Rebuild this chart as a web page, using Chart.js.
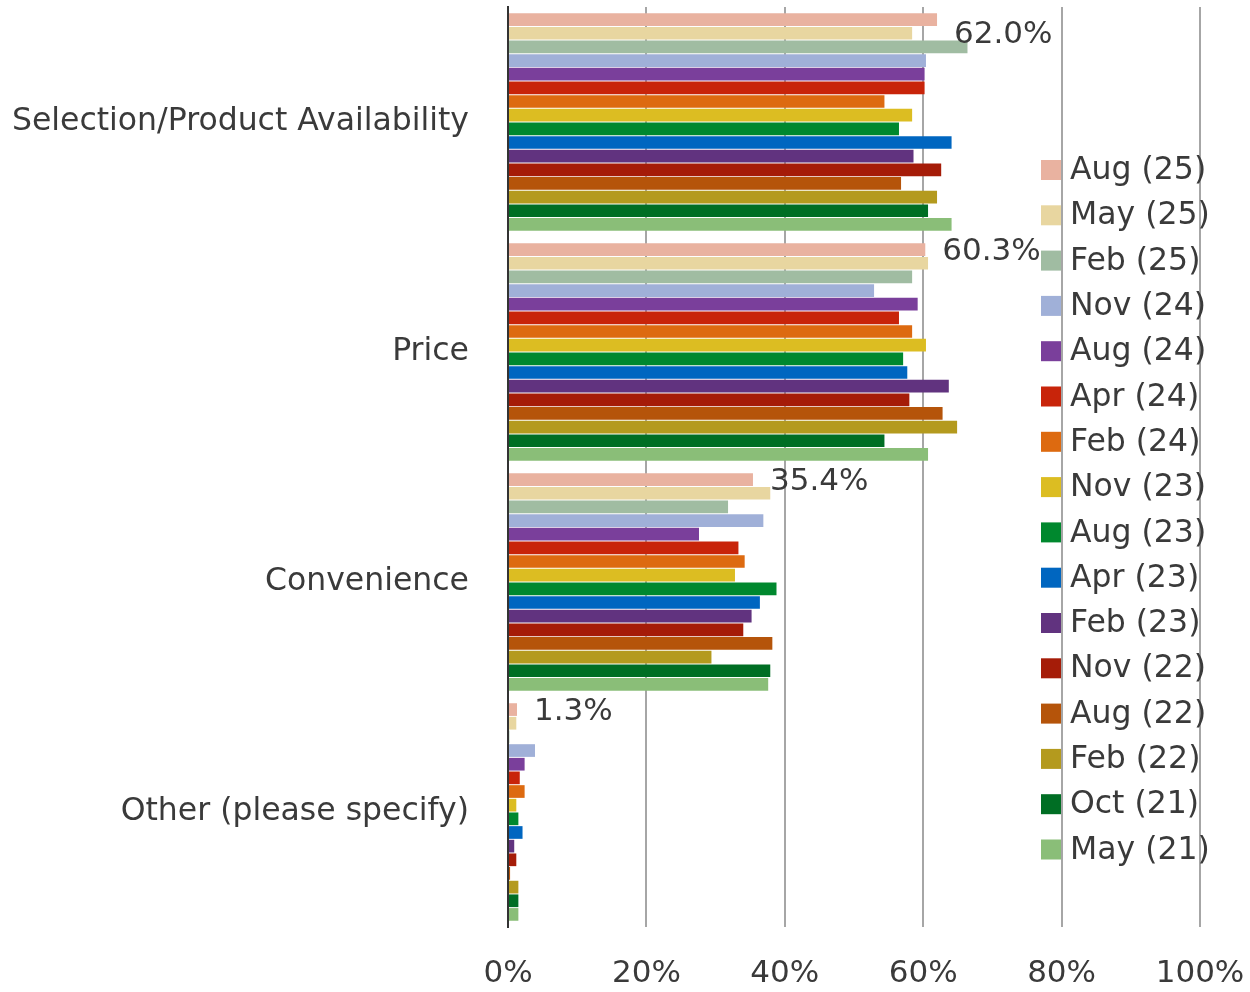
<!DOCTYPE html>
<html>
<head>
<meta charset="utf-8">
<script src="https://cdn.jsdelivr.net/npm/chart.js@4"></script>
<style>
    body { margin: 0; background: #fff; }
    #wrap { width: 1250px; height: 992px; }
</style>
</head>
<body>
<div id="wrap"><canvas id="chart" width="1250" height="992"></canvas></div>
<script>
const categories = ["Selection/Product Availability", "Price", "Convenience", "Other (please specify)"];
const seriesNames = ["Aug (25)", "May (25)", "Feb (25)", "Nov (24)", "Aug (24)", "Apr (24)", "Feb (24)", "Nov (23)",
    "Aug (23)", "Apr (23)", "Feb (23)", "Nov (22)", "Aug (22)", "Feb (22)", "Oct (21)", "May (21)"];
const seriesColors = ["#e9b2a0", "#e8d6a0", "#a0bca2", "#a0b0d8", "#7a3f9b", "#c8240a", "#dd6a10", "#dcbd22",
    "#00882e", "#0066c0", "#61337f", "#a51c08", "#b5540a", "#b49a1e", "#006e24", "#8abe78"];

// one row per series: [Selection, Price, Convenience, Other]
const aug25 = [62.0, 60.3, 35.4, 1.3];
const may25 = [58.4, 60.7, 37.9, 1.2];
const feb25 = [66.4, 58.4, 31.8, 0.2];
const nov24 = [60.4, 52.9, 36.9, 3.9];
const aug24 = [60.2, 59.2, 27.6, 2.4];
const apr24 = [60.2, 56.5, 33.3, 1.7];
const feb24 = [54.4, 58.4, 34.2, 2.4];
const nov23 = [58.4, 60.4, 32.8, 1.2];
const aug23 = [56.5, 57.1, 38.8, 1.5];
const apr23 = [64.1, 57.7, 36.4, 2.1];
const feb23 = [58.6, 63.7, 35.2, 0.9];
const nov22 = [62.6, 58.0, 34.0, 1.2];
const aug22 = [56.8, 62.8, 38.2, 0.3];
const feb22 = [62.0, 64.9, 29.4, 1.5];
const oct21 = [60.7, 54.4, 37.9, 1.5];
const may21 = [64.1, 60.7, 37.6, 1.5];
const seriesValues = [aug25, may25, feb25, nov24, aug24, apr24, feb24, nov23,
    aug23, apr23, feb23, nov22, aug22, feb22, oct21, may21];

const xTicks = [0, 20, 40, 60, 80, 100];

const FONT = "'DejaVu Sans', Verdana, sans-serif";
const TEXT = "#3a3a3a";

// value labels on the first series only
const valueLabels = {
    id: "valueLabels",
    afterDatasetsDraw(chart) {
        const c = chart.ctx;
        const meta = chart.getDatasetMeta(0);
        c.save();
        c.font = "31px " + FONT;
        c.fillStyle = TEXT;
        c.textAlign = "left";
        c.textBaseline = "middle";
        meta.data.forEach((bar, i) => {
            const y = Math.max(bar.y + 2, chart.chartArea.top + 28);
            c.fillText(aug25[i].toFixed(1) + "%", bar.x + 17, y);
        });
        c.restore();
    },
};

// legend drawn over the plot area, like the original
const overlayLegend = {
    id: "overlayLegend",
    afterDraw(chart) {
        const c = chart.ctx;
        const x = chart.chartArea.right - 159;
        c.save();
        c.font = "31.5px " + FONT;
        c.textBaseline = "middle";
        seriesNames.forEach((name, i) => {
            const y = 170 + i * 45.3;
            c.fillStyle = seriesColors[i];
            c.fillRect(x, y - 10, 20, 20);
            c.fillStyle = TEXT;
            c.fillText(name, x + 29, y + 1);
        });
        c.restore();
    },
};

const ctx = document.getElementById("chart").getContext("2d");
const chart = new Chart(ctx, {
    type: "bar",
    data: {
        labels: categories,
        datasets: seriesNames.map((name, i) => ({
            label: name,
            data: seriesValues[i],
            backgroundColor: seriesColors[i],
            categoryPercentage: 0.95,
            barPercentage: 0.93,
        })),
    },
    options: {
        indexAxis: "y",
        responsive: false,
        animation: false,
        layout: { padding: { top: 7, left: 0, right: 50, bottom: 0 } },
        plugins: {
            legend: { display: false },
            tooltip: { enabled: false },
        },
        scales: {
            x: {
                min: 0,
                max: 100,
                afterBuildTicks: (axis) => { axis.ticks = xTicks.map((v) => ({ value: v })); },
                afterFit: (axis) => {
                    axis.height = 65;
                    axis.paddingLeft = 0;
                    axis.paddingRight = 0;
                },
                border: { display: false },
                grid: {
                    color: (c) => (c.tick && c.tick.value === 0 ? "#333333" : "#a6a6a6"),
                    lineWidth: 2,
                    drawTicks: false,
                },
                ticks: {
                    color: TEXT,
                    font: { family: FONT, size: 31 },
                    padding: 28,
                    maxRotation: 0,
                    callback: (v) => v + "%",
                },
            },
            y: {
                afterFit: (axis) => {
                    axis.width = 508;
                    axis.paddingTop = 0;
                    axis.paddingBottom = 0;
                },
                border: { display: true, color: "#333333", width: 2 },
                grid: { display: false },
                ticks: {
                    color: TEXT,
                    font: { family: FONT, size: 31.5 },
                    padding: 31,
                },
            },
        },
    },
    plugins: [valueLabels, overlayLegend],
});
</script>
</body>
</html>
